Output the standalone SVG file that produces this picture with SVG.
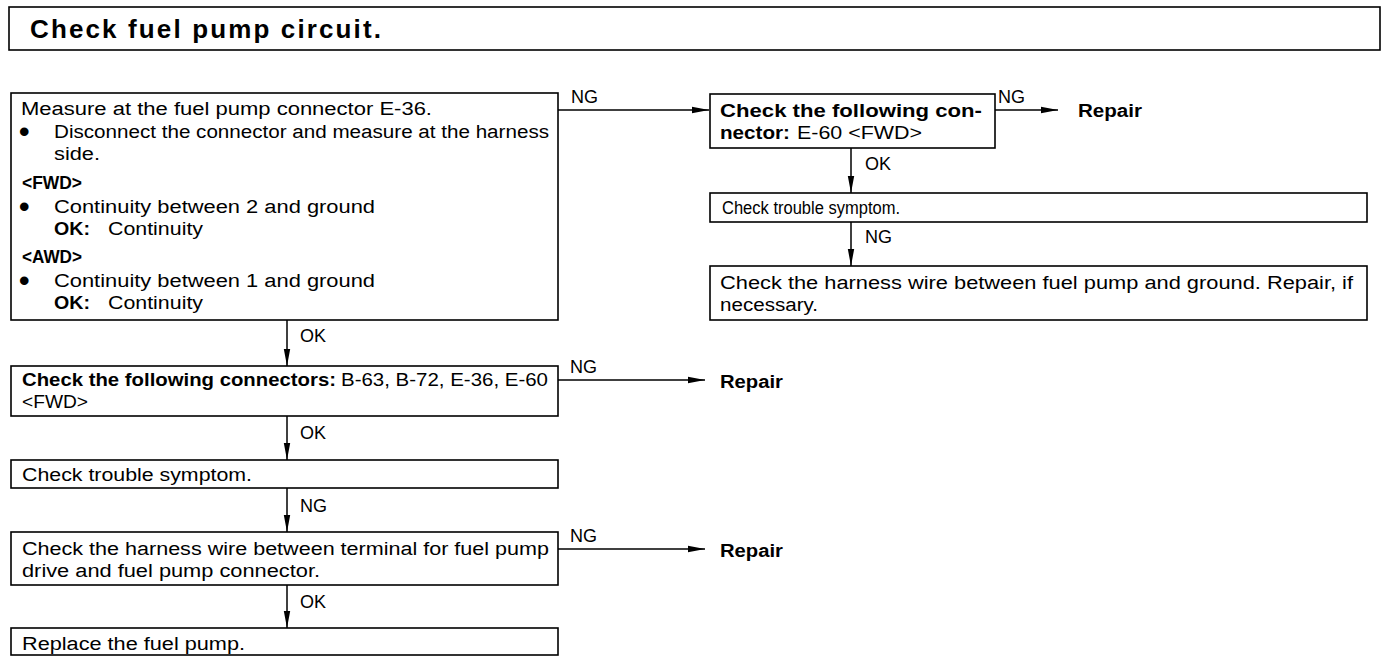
<svg xmlns="http://www.w3.org/2000/svg" width="1392" height="666" viewBox="0 0 1392 666">
<style>
  text { font-family: "Liberation Sans", Arial, Helvetica, sans-serif; font-size: 18px; fill: #000; }
  .b { font-weight: bold; }
  .t { font-size: 26px; font-weight: bold; }
  .bul { font-size: 30px; font-weight: bold; }
  .box { fill: #fff; stroke: #000; stroke-width: 1.6; }
  .ln { fill: none; stroke: #000; stroke-width: 1.5; }
</style>
<defs>
  <marker id="ah" markerUnits="userSpaceOnUse" markerWidth="18" markerHeight="8" refX="17" refY="4" orient="auto">
    <path d="M0,0.8 L17,4 L0,7.2 z" fill="#000"/>
  </marker>
</defs>
<rect width="1392" height="666" fill="#fff"/>

<g id="title">
  <rect class="box" x="9" y="7" width="1371" height="43"/>
  <text class="t" x="30" y="38" textLength="351" lengthAdjust="spacing">Check fuel pump circuit.</text>
</g>

<g id="connectors">
  <path class="ln" d="M558,110 H709" marker-end="url(#ah)"/>
  <path class="ln" d="M995,110 H1058" marker-end="url(#ah)"/>
  <path class="ln" d="M851,148 V193" marker-end="url(#ah)"/>
  <path class="ln" d="M851,222 V266" marker-end="url(#ah)"/>
  <path class="ln" d="M287,320 V366" marker-end="url(#ah)"/>
  <path class="ln" d="M558,380 H705" marker-end="url(#ah)"/>
  <path class="ln" d="M287,416 V460" marker-end="url(#ah)"/>
  <path class="ln" d="M287,488 V532" marker-end="url(#ah)"/>
  <path class="ln" d="M558,549 H705" marker-end="url(#ah)"/>
  <path class="ln" d="M287,585 V628" marker-end="url(#ah)"/>
  <text x="571" y="103">NG</text>
  <text x="998" y="103">NG</text>
  <text x="865" y="170">OK</text>
  <text x="865" y="243">NG</text>
  <text x="300" y="342">OK</text>
  <text x="570" y="373">NG</text>
  <text x="300" y="439">OK</text>
  <text x="300" y="512">NG</text>
  <text x="570" y="542">NG</text>
  <text x="300" y="608">OK</text>
</g>

<g id="n-measure">
  <rect class="box" x="11" y="93" width="547" height="227"/>
  <text x="21" y="115" textLength="411" lengthAdjust="spacingAndGlyphs">Measure at the fuel pump connector E-36.</text>
  <text class="bul" x="19" y="142">•</text>
  <text x="54" y="138" textLength="495" lengthAdjust="spacingAndGlyphs">Disconnect the connector and measure at the harness</text>
  <text x="54" y="160" textLength="46" lengthAdjust="spacingAndGlyphs">side.</text>
  <text class="b" x="22" y="189" textLength="60" lengthAdjust="spacingAndGlyphs">&lt;FWD&gt;</text>
  <text class="bul" x="19" y="217">•</text>
  <text x="54" y="213" textLength="321" lengthAdjust="spacingAndGlyphs">Continuity between 2 and ground</text>
  <text class="b" x="54" y="235" textLength="36" lengthAdjust="spacingAndGlyphs">OK:</text>
  <text x="108" y="235" textLength="95" lengthAdjust="spacingAndGlyphs">Continuity</text>
  <text class="b" x="22" y="263" textLength="60" lengthAdjust="spacingAndGlyphs">&lt;AWD&gt;</text>
  <text class="bul" x="19" y="291">•</text>
  <text x="54" y="287" textLength="321" lengthAdjust="spacingAndGlyphs">Continuity between 1 and ground</text>
  <text class="b" x="54" y="309" textLength="36" lengthAdjust="spacingAndGlyphs">OK:</text>
  <text x="108" y="309" textLength="95" lengthAdjust="spacingAndGlyphs">Continuity</text>
</g>

<g id="n-check-e60">
  <rect class="box" x="710" y="94" width="285" height="54"/>
  <text class="b" x="720" y="117" textLength="262" lengthAdjust="spacingAndGlyphs">Check the following con-</text>
  <text class="b" x="720" y="139" textLength="70" lengthAdjust="spacingAndGlyphs">nector:</text>
  <text x="797" y="139" textLength="125" lengthAdjust="spacingAndGlyphs">E-60 &lt;FWD&gt;</text>
</g>

<g id="n-repair-1">
  <text class="b" x="1078" y="117" textLength="64" lengthAdjust="spacingAndGlyphs">Repair</text>
</g>

<g id="n-symptom-r">
  <rect class="box" x="710" y="193" width="657" height="29"/>
  <text x="722" y="214" textLength="178" lengthAdjust="spacingAndGlyphs">Check trouble symptom.</text>
</g>

<g id="n-harness-ground">
  <rect class="box" x="710" y="266" width="657" height="54"/>
  <text x="720" y="289" textLength="633" lengthAdjust="spacingAndGlyphs">Check the harness wire between fuel pump and ground. Repair, if</text>
  <text x="720" y="311" textLength="98" lengthAdjust="spacingAndGlyphs">necessary.</text>
</g>

<g id="n-check-connectors">
  <rect class="box" x="11" y="366" width="547" height="50"/>
  <text class="b" x="22" y="386" textLength="314" lengthAdjust="spacingAndGlyphs">Check the following connectors:</text>
  <text x="341" y="386" textLength="207" lengthAdjust="spacingAndGlyphs">B-63, B-72, E-36, E-60</text>
  <text x="22" y="408" textLength="66" lengthAdjust="spacingAndGlyphs">&lt;FWD&gt;</text>
</g>

<g id="n-repair-2">
  <text class="b" x="720" y="388" textLength="63" lengthAdjust="spacingAndGlyphs">Repair</text>
</g>

<g id="n-symptom-l">
  <rect class="box" x="11" y="460" width="547" height="28"/>
  <text x="22" y="481" textLength="230" lengthAdjust="spacingAndGlyphs">Check trouble symptom.</text>
</g>

<g id="n-harness-drive">
  <rect class="box" x="11" y="532" width="547" height="53"/>
  <text x="22" y="555" textLength="527" lengthAdjust="spacingAndGlyphs">Check the harness wire between terminal for fuel pump</text>
  <text x="22" y="577" textLength="298" lengthAdjust="spacingAndGlyphs">drive and fuel pump connector.</text>
</g>

<g id="n-repair-3">
  <text class="b" x="720" y="557" textLength="63" lengthAdjust="spacingAndGlyphs">Repair</text>
</g>

<g id="n-replace">
  <rect class="box" x="11" y="628" width="547" height="27"/>
  <text x="22" y="650" textLength="223" lengthAdjust="spacingAndGlyphs">Replace the fuel pump.</text>
</g>
</svg>
